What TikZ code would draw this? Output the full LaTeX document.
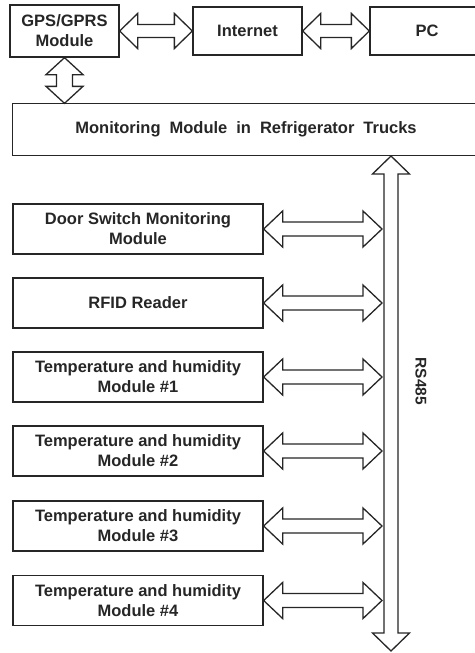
\documentclass[tikz,border=0pt]{standalone}
\usepackage{fontspec}
\setmainfont{Liberation Sans}
\usetikzlibrary{calc}
\tikzset{
  box/.style={draw=black!85, line width=1.3pt, fill=white, align=center,
    font=\fontsize{16.5}{20}\selectfont\bfseries, text=black!85, inner sep=0pt},
  blk/.style={draw=black!85, line width=1.3pt, fill=white, line join=miter},
}
\newcommand\harr[5]{% from, to, shaft half, head half, head length
  \draw[blk] let \p1=(#1), \p2=(#2) in
    (\x1,\y1) -- (\x1+#5pt,\y1+#4pt) -- (\x1+#5pt,\y1+#3pt) -- (\x2-#5pt,\y1+#3pt)
    -- (\x2-#5pt,\y1+#4pt) -- (\x2,\y1) -- (\x2-#5pt,\y1-#4pt) -- (\x2-#5pt,\y1-#3pt)
    -- (\x1+#5pt,\y1-#3pt) -- (\x1+#5pt,\y1-#4pt) -- cycle;}
\newcommand\varr[5]{% top, bottom, shaft half, head half, head length
  \draw[blk] let \p1=(#1), \p2=(#2) in
    (\x1,\y1) -- (\x1+#4pt,\y1-#5pt) -- (\x1+#3pt,\y1-#5pt) -- (\x1+#3pt,\y2+#5pt)
    -- (\x1+#4pt,\y2+#5pt) -- (\x1,\y2) -- (\x1-#4pt,\y2+#5pt) -- (\x1-#3pt,\y2+#5pt)
    -- (\x1-#3pt,\y1-#5pt) -- (\x1-#4pt,\y1-#5pt) -- cycle;}
\begin{document}
\begin{tikzpicture}[x=1pt,y=-1pt]
\useasboundingbox (0,0) rectangle (474,653);
% top row
\node[box, minimum width=109pt, minimum height=52pt] (gps) at (64.5,31) {GPS/GPRS\\Module};
\node[box, minimum width=109pt, minimum height=48pt] (inet) at (247.5,31) {Internet};
\node[box, minimum width=114pt, minimum height=48pt] (pc) at (427,31) {PC};
% monitoring module
\node[box, draw=none, fill=none, minimum width=466pt, minimum height=51pt] (mon) at (246,129.5)
  {Monitoring\hspace{4.4pt} Module\hspace{4.4pt} in\hspace{4.4pt} Refrigerator\hspace{4.4pt} Trucks};
\draw[blk, fill=none] (mon.south east) ++(30pt,0) -- (mon.south west) -- (mon.north west) -- ++(500pt,0);
% sensor boxes
\node[box, minimum width=250pt, minimum height=50pt] (door) at (138,229) {Door Switch Monitoring\\Module};
\node[box, minimum width=250pt, minimum height=50pt] (rfid) at (138,303) {RFID Reader};
\node[box, minimum width=250pt, minimum height=50pt] (t1) at (138,377) {Temperature and humidity\\Module \#1};
\node[box, minimum width=250pt, minimum height=50pt] (t2) at (138,451) {Temperature and humidity\\Module \#2};
\node[box, minimum width=250pt, minimum height=50pt] (t3) at (138,526) {Temperature and humidity\\Module \#3};
\node[box, minimum width=250pt, minimum height=50pt] (t4) at (138,600.5) {Temperature and humidity\\Module \#4};
% bus
\coordinate (bustop) at (391,156);
\coordinate (busbot) at (391,651);
\coordinate (busL) at (382,0);
\varr{bustop}{busbot}{7}{18.5}{18}
\node[font=\fontsize{15.5}{17}\selectfont\bfseries, text=black!85, rotate=-90] (rs) at (421,381.5) {RS485};
% top arrows
\harr{gps.east}{inet.west}{6.5}{17.5}{18}
\harr{inet.east}{pc.west}{6.5}{17.5}{18}
\varr{gps.south}{gps.south |- mon.north}{8}{18.5}{17}
% sensor arrows
\foreach \bx in {door,rfid,t1,t2,t3,t4}{
  \harr{\bx.east}{\bx.east -| busL}{7}{18}{19}
}
\end{tikzpicture}
\end{document}
